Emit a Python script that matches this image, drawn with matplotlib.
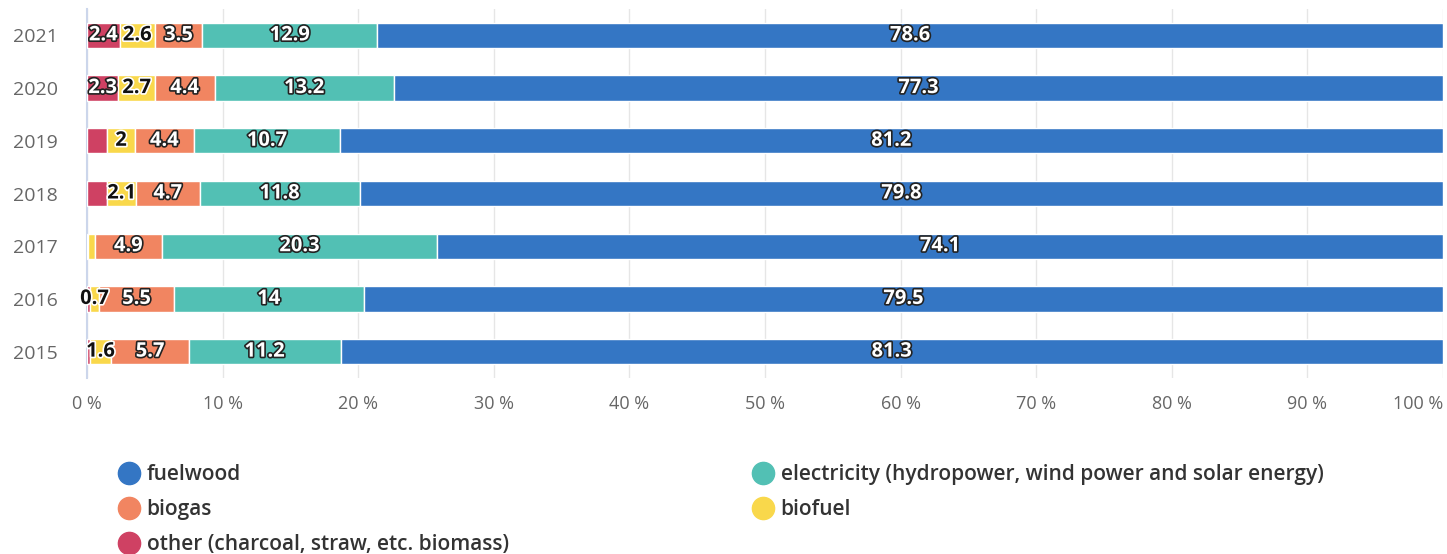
import matplotlib
matplotlib.use("Agg")
import matplotlib.pyplot as plt
import matplotlib.patheffects as pe
from matplotlib.lines import Line2D

plt.rcParams["font.family"] = ["Open Sans", "DejaVu Sans"]

years = ["2015", "2016", "2017", "2018", "2019", "2020", "2021"]

# shares in %, stacked left to right (bars are normalised to 100 %)
other = [0.2, 0.2, 0.1, 1.5, 1.5, 2.3, 2.4]
biofuel = [1.6, 0.7, 0.5, 2.1, 2.0, 2.7, 2.6]
biogas = [5.7, 5.5, 4.9, 4.7, 4.4, 4.4, 3.5]
electricity = [11.2, 14.0, 20.3, 11.8, 10.7, 13.2, 12.9]
fuelwood = [81.3, 79.5, 74.1, 79.8, 81.2, 77.3, 78.6]

series = [
    ("other (charcoal, straw, etc. biomass)", other, "#cf4163"),
    ("biofuel", biofuel, "#f9d84b"),
    ("biogas", biogas, "#f18561"),
    ("electricity (hydropower, wind power and solar energy)", electricity, "#52c0b4"),
    ("fuelwood", fuelwood, "#3476c4"),
]
totals = [sum(s[1][i] for s in series) for i in range(len(years))]

fig = plt.figure(figsize=(14.47, 5.54), dpi=100)
ax = fig.add_axes([87 / 1447, 1 - 378 / 554, (1443 - 87) / 1447, 369 / 554])

ypos = list(range(len(years)))
left = [0.0] * len(years)
handles = {}
for name, vals, color in series:
    widths = [v / t * 100 for v, t in zip(vals, totals)]
    ax.barh(ypos, widths, left=left, height=0.48, color=color,
            edgecolor="white", linewidth=1, zorder=3)
    for i, v in enumerate(vals):
        show = v >= 0.6 and not (name.startswith("other") and v < 2)
        if show:
            if color == "#f9d84b":
                fc, oc = "#111111", "white"
            else:
                fc, oc = "white", "#222222"
            ax.text(left[i] + widths[i] / 2, i, f"{v:g}", ha="center", va="center",
                    fontsize=14.5, fontweight="bold", color=fc, zorder=5,
                    path_effects=[pe.withStroke(linewidth=2.4, foreground=oc)])
    left = [l + w for l, w in zip(left, widths)]
    handles[name] = Line2D([], [], marker="o", linestyle="", markersize=16,
                           markerfacecolor=color, markeredgecolor=color)

ax.set_xlim(0, 100)
ax.set_ylim(-0.5, len(years) - 0.5)
ax.set_yticks(ypos)
ax.set_yticklabels(years, fontsize=14)
ax.set_xticks(range(0, 101, 10))
ax.set_xticklabels([f"{t} %" for t in range(0, 101, 10)], fontsize=13)
ax.get_xticklabels()[-1].set_horizontalalignment("right")
ax.tick_params(axis="both", length=0, colors="#666666")
ax.tick_params(axis="x", pad=12)
ax.tick_params(axis="y", pad=21)
ax.grid(axis="x", color="#e6e6e6", linewidth=1, zorder=0)
for s in ["top", "right", "bottom"]:
    ax.spines[s].set_visible(False)
ax.spines["left"].set_color("#ccd6eb")
ax.spines["left"].set_linewidth(1.5)

order = [series[4][0], series[2][0], series[0][0], series[3][0], series[1][0]]
leg = fig.legend([handles[n] for n in order], order, ncol=2,
                 loc="upper left", bbox_to_anchor=(106 / 1447, 1 - 454 / 554),
                 frameon=False, prop={"size": 15, "weight": "semibold"},
                 handletextpad=0.25, labelspacing=0.66, columnspacing=11.6,
                 handlelength=1.2, borderpad=0)
for t in leg.get_texts():
    t.set_color("#333333")

fig.savefig("out.png", dpi=100)
